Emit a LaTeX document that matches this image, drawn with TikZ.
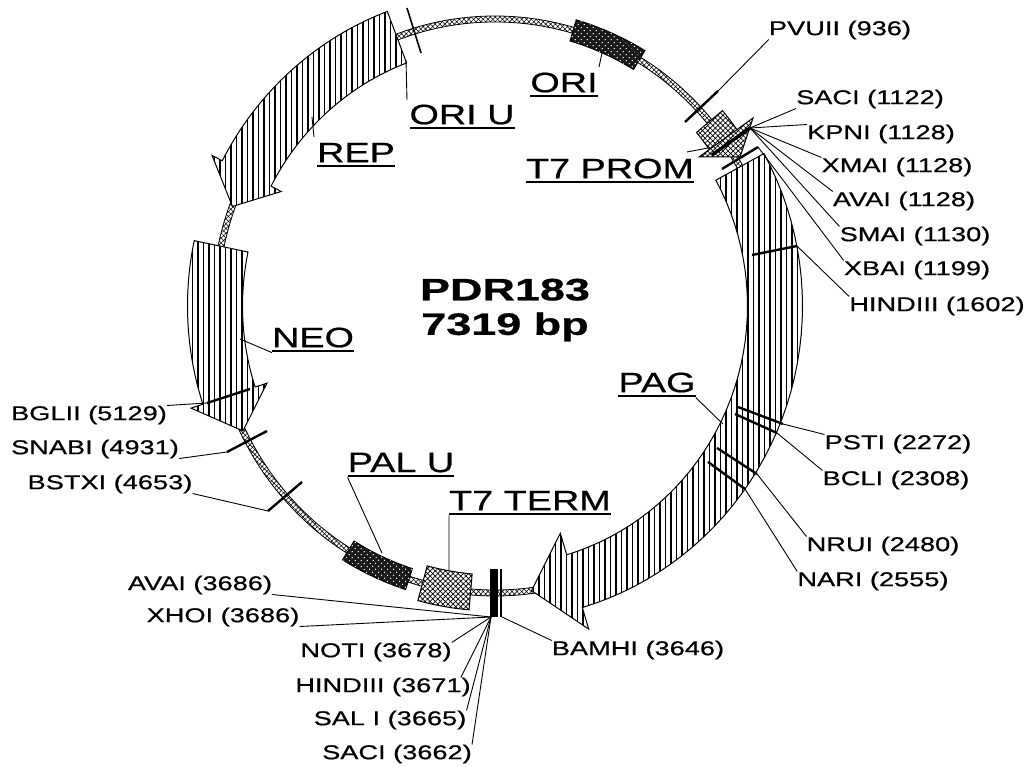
\documentclass[tikz,border=0pt]{standalone}
\usepackage{fontspec}
\setmainfont[FakeStretch=1.36,FakeBold=.6]{Liberation Sans}
\newfontfamily\genefont[FakeStretch=1.35,FakeBold=.6]{Liberation Sans}
\newfontfamily\titlefont[FakeStretch=1.45,FakeBold=.8]{Liberation Sans Bold}
\usepackage{tikz}
\usetikzlibrary{patterns,patterns.meta}
\tikzstyle{site}=[inner sep=0pt,yshift=-2pt,font=\fontsize{20}{20}\selectfont]
\tikzstyle{gene}=[inner sep=0pt,font=\fontsize{28}{28}\genefont]
\tikzstyle{title}=[inner sep=0pt,align=center,font=\fontsize{31}{34.5}\titlefont]
\tikzstyle{leader} = [draw,line width=.9pt,-]
\tikzstyle{cut} = [draw,line width=2.4pt,-]
\tikzstyle{ring} = [draw,line width=.8pt,fill=white,postaction={pattern={Hatch[angle=45,distance=3.4pt,line width=.55pt]}}]
\tikzstyle{band} = [draw,line width=1pt,fill=white,postaction={pattern={Lines[angle=90,distance=5.5pt,line width=1.1pt]}}]
\tikzstyle{darkbox} = [draw,line width=1pt,fill=black!90,postaction={pattern={Dots[angle=45,distance=4pt,radius=.75pt]},pattern color=white}]
\tikzstyle{lightbox} = [draw,line width=1pt,fill=white,postaction={pattern={Hatch[angle=45,distance=3.6pt,line width=.7pt]}}]
% arrow: tail angle, shoulder angle, tip angle (clockwise from east), barb
\newcommand{\arrowband}[4]{
  \draw[band] plot[domain=#1:#2,samples=40] (\x:252.5 and 259.5)
    -- ({(280-#4)*cos(#2)},{(287-#4)*sin(#2)}) -- (#3:280 and 287) -- ({(280+#4)*cos(#2)},{(287+#4)*sin(#2)})
    -- plot[domain=#2:#1,samples=40] (\x:307.5 and 314.5) -- cycle;
}
\newcommand{\genebox}[4][darkbox]{
  \draw[#1] plot[domain=#2:#3,samples=12] ({(280-#4)*cos(\x)},{(287-#4)*sin(\x)})
    -- plot[domain=#3:#2,samples=12] ({(280+#4)*cos(\x)},{(287+#4)*sin(\x)}) -- cycle;
}
\newcommand{\geneul}[1]{\vtop{\hbox{#1}\kern2.5pt\hrule height 2.4pt}}

\begin{document}
\begin{tikzpicture}[x=1pt,y=-1pt]
        \useasboundingbox (0,0) rectangle (1031,767);
        \begin{scope}[shift={(495,306)}]
        \draw[ring,even odd rule] (0,0) ellipse [x radius=283,y radius=290] (0,0) ellipse [x radius=277,y radius=284];
        \arrowband{-29}{73.5}{82.5}{50}
        \arrowband{249.5}{207.5}{200.3}{39}
        \arrowband{192}{161.8}{154.2}{40}
        \genebox{-73.8}{-59}{11}
        \genebox{121.6}{107.9}{11}
        \genebox[lightbox]{105}{95}{18}
        \genebox[lightbox]{-40}{-34.5}{17}
        \end{scope}
        \draw[lightbox] (753,118) -- (699,157) -- (740,157) -- cycle;
        \fill (490,569) rectangle (498,617);
        \fill (500,569) rectangle (502,617);

        \node[title] (plasmid) at (505,310) {PDR183\\7319 bp};

        \node[gene] (ori) at (564,85) {\geneul{ORI}};
        \node[gene] (oriu) at (462,117) {\geneul{ORI U}};
        \node[gene] (rep) at (356,155) {\geneul{REP}};
        \node[gene] (t7prom) at (610,171) {\geneul{T7 PROM}};
        \node[gene] (neo) at (313,340) {\geneul{NEO}};
        \node[gene] (pag) at (657,385) {\geneul{PAG}};
        \node[gene] (palu) at (401,465) {\geneul{PAL U}};
        \node[gene] (t7term) at (530,503) {\geneul{T7 TERM}};

        \node[site] (pvuii) at (840,28) {PVUII (936)};
        \node[site] (saci) at (870,97) {SACI (1122)};
        \node[site] (kpni) at (881,132) {KPNI (1128)};
        \node[site] (xmai) at (897,165) {XMAI (1128)};
        \node[site] (avai) at (904,199) {AVAI (1128)};
        \node[site] (smai) at (915,234) {SMAI (1130)};
        \node[site] (xbai) at (917,268) {XBAI (1199)};
        \node[site] (hindiii) at (937,304) {HINDIII (1602)};
        \node[site] (psti) at (898,442) {PSTI (2272)};
        \node[site] (bcli) at (896,478) {BCLI (2308)};
        \node[site] (nrui) at (883,544) {NRUI (2480)};
        \node[site] (nari) at (873,579) {NARI (2555)};
        \node[site] (bamhi) at (638,648) {BAMHI (3646)};
        \node[site] (saciB) at (397,752) {SACI (3662)};
        \node[site] (sali) at (390,718) {SAL I (3665)};
        \node[site] (hindiiiB) at (383,685) {HINDIII (3671)};
        \node[site] (noti) at (376,650) {NOTI (3678)};
        \node[site] (xhoi) at (223,615) {XHOI (3686)};
        \node[site] (avaiB) at (200,583) {AVAI (3686)};
        \node[site] (bstxi) at (110,482) {BSTXI (4653)};
        \node[site] (snabi) at (95,447) {SNABI (4931)};
        \node[site] (bglii) at (89,413) {BGLII (5129)};

        % cut marks
        \coordinate (pvuiiA) at (685,122); \coordinate (pvuiiB) at (718,91);
        \coordinate (oriuA) at (407,8); \coordinate (oriuB) at (421,53);
        \coordinate (mcsA) at (712,155); \coordinate (mcsB) at (750,128);
        \coordinate (xbaiA) at (722,169); \coordinate (xbaiB) at (758,147);
        \coordinate (hindA) at (752,255); \coordinate (hindB) at (797,246);
        \coordinate (pstiA) at (738,407); \coordinate (pstiB) at (783,424);
        \coordinate (bcliA) at (735,414); \coordinate (bcliB) at (777,433);
        \coordinate (nruiA) at (717,448); \coordinate (nruiB) at (757,474);
        \coordinate (nariA) at (708,462); \coordinate (nariB) at (745,489);
        \coordinate (bgliiA) at (207,403); \coordinate (bgliiB) at (250,389);
        \coordinate (snabiA) at (227,452); \coordinate (snabiB) at (267,431);
        \coordinate (bstxiA) at (268,511); \coordinate (bstxiB) at (302,482);
        \coordinate (bamA) at (491,617); \coordinate (bamB) at (502,617);
        \draw[cut] (pvuiiA) to (pvuiiB);
        \draw[cut,line width=1.6pt] (oriuA) to (oriuB);
        \draw[cut,line width=3.4pt] (mcsA) to (mcsB);
        \draw[cut] (xbaiA) to (xbaiB);
        \draw[cut] (hindA) to (hindB);
        \draw[cut] (pstiA) to (pstiB);
        \draw[cut] (bcliA) to (bcliB);
        \draw[cut] (nruiA) to (nruiB);
        \draw[cut] (nariA) to (nariB);
        \draw[cut] (bgliiA) to (bgliiB);
        \draw[cut] (snabiA) to (snabiB);
        \draw[cut] (bstxiA) to (bstxiB);

        % leaders
        \draw[leader] (pvuiiB) to (pvuii.south west);
        \draw[leader] (mcsB) to (saci.south west);
        \draw[leader] (mcsB) to (kpni.north west);
        \draw[leader] (mcsB) to (xmai.north west);
        \draw[leader] (mcsB) to (avai.north west);
        \draw[leader] (mcsB) to (smai.north west);
        \draw[leader] (xbaiB) to (xbai.north west);
        \draw[leader] (hindB) to (hindiii.north west);
        \draw[leader] (pstiB) to (psti.north west);
        \draw[leader] (bcliB) to (bcli.north west);
        \draw[leader] (nruiB) to (nrui.north west);
        \draw[leader] (nariB) to (nari.north west);
        \draw[leader] (bamB) to (bamhi.north west);
        \draw[leader] (bamA) to (saciB.north east);
        \draw[leader] (bamA) to (sali.north east);
        \draw[leader] (bamA) to ([xshift=-10pt]hindiiiB.north east);
        \draw[leader] (bamA) to (noti.north east);
        \draw[leader] (bamA) to (xhoi.south east);
        \draw[leader] (bamA) to (avaiB.south east);
        \draw[leader] (bstxiA) to (bstxi.south east);
        \draw[leader] (snabiA) to (snabi.south east);
        \draw[leader] (bgliiA) to (bglii.north east);

        \coordinate (oriuC) at (406,60); \coordinate (oriuD) at (407,100);
        \coordinate (oriC) at (602,53); \coordinate (oriD) at (599,67);
        \coordinate (repC) at (312,117); \coordinate (repD) at (314,137);
        \coordinate (t7promC) at (708,148); \coordinate (t7promD) at (687,152);
        \coordinate (neoC) at (240,339);
        \coordinate (pagC) at (723,424);
        \coordinate (paluC) at (382,553);
        \coordinate (t7termC) at (449,570);
        \draw[leader] (oriuC) to (oriuD);
        \draw[leader] (oriC) to (oriD);
        \draw[leader] (repC) to (repD);
        \draw[leader] (t7promC) to (t7promD);
        \draw[leader] (neoC) to (neo.south west);
        \draw[leader] (pagC) to (pag.south east);
        \draw[leader] (paluC) to (palu.south west);
        \draw[leader] (t7termC) to (t7term.south west);
\end{tikzpicture}
\end{document}
